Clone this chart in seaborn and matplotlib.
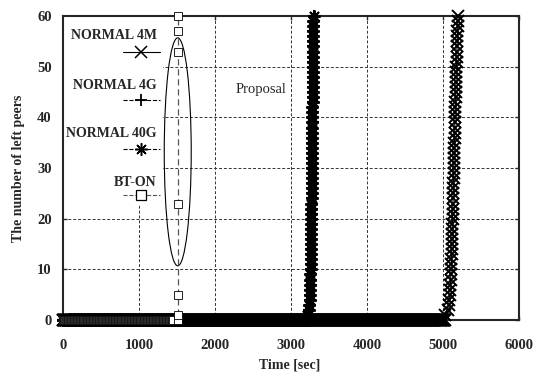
import matplotlib as mpl

mpl.use("Agg")
import matplotlib.pyplot as plt
from matplotlib.patches import Ellipse, Rectangle
import seaborn as sns
import numpy as np
import pandas as pd

sns.set_style("ticks")
plt.rcParams["font.family"] = ["Liberation Serif", "DejaVu Serif"]
plt.rcParams["font.weight"] = "bold"

# departure time [sec] of the 1st, 2nd, ... 60th peer
normal_4m = [5028, 5060, 5075, 5084, 5090, 5094, 5098, 5101, 5104, 5107,
             5110, 5112, 5114, 5116, 5118, 5119, 5121, 5122, 5124, 5126,
             5128, 5130, 5131, 5133, 5135, 5136, 5138, 5140, 5141, 5143,
             5144, 5146, 5147, 5149, 5150, 5152, 5154, 5155, 5157, 5159,
             5161, 5162, 5164, 5166, 5168, 5170, 5171, 5173, 5175, 5177,
             5179, 5181, 5183, 5185, 5187, 5189, 5191, 5193, 5196, 5200]
normal_4g = [3225, 3240, 3248, 3252, 3255, 3257, 3259, 3261, 3262, 3263,
             3264, 3265, 3266, 3267, 3268, 3268, 3269, 3270, 3271, 3271,
             3272, 3273, 3273, 3274, 3275, 3275, 3276, 3277, 3277, 3278,
             3279, 3279, 3280, 3281, 3281, 3282, 3283, 3283, 3284, 3285,
             3285, 3286, 3287, 3287, 3288, 3289, 3289, 3290, 3291, 3291,
             3292, 3293, 3293, 3294, 3295, 3295, 3296, 3297, 3298, 3300]
normal_40g = [3215, 3232, 3241, 3246, 3249, 3252, 3254, 3256, 3257, 3259,
              3260, 3261, 3262, 3263, 3264, 3265, 3266, 3266, 3267, 3268,
              3269, 3269, 3270, 3271, 3272, 3272, 3273, 3274, 3274, 3275,
              3276, 3277, 3277, 3278, 3279, 3279, 3280, 3281, 3281, 3282,
              3283, 3283, 3284, 3285, 3286, 3286, 3287, 3288, 3288, 3289,
              3290, 3290, 3291, 3292, 3293, 3293, 3294, 3295, 3296, 3297]
# BT-ON: counter samples around the moment all peers leave
bt_on_t = [1510, 1510, 1510, 1510, 1510, 1510, 1510]
bt_on_n = [0, 1, 5, 23, 53, 57, 60]
bt_on_idle_end = 1460

# counter logging interval [sec] while nobody has left yet
log_interval_normal = 5
log_interval_bt = 10


def series(deps):
    deps = np.asarray(deps, dtype=float)
    idle = np.arange(0, deps[0], log_interval_normal)
    t = np.concatenate([idle, deps])
    n = np.concatenate([np.zeros(len(idle)), np.arange(1, len(deps) + 1)])
    return pd.DataFrame({"t": t, "n": n})


df_4m = series(normal_4m)
df_4g = series(normal_4g)
df_40g = series(normal_40g)
idle = np.arange(0, bt_on_idle_end, log_interval_bt)
df_bt = pd.DataFrame({"t": np.concatenate([idle, bt_on_t]),
                      "n": np.concatenate([np.zeros(len(idle)), bt_on_n])})

f = plt.figure(figsize=(5.36, 3.73), dpi=100)
ax = f.add_axes([0.1175, 0.142, 0.8507, 0.815])

common = dict(estimator=None, sort=False, ax=ax, clip_on=False, legend=False)
sns.lineplot(x="t", y="n", data=df_4m, color="k", lw=0.8, marker="x",
             markersize=8, markeredgewidth=1.4, markeredgecolor="k",
             zorder=3, **common)
sns.lineplot(x="t", y="n", data=df_4g, color="k", lw=0.8, linestyle="--",
             marker="+", markersize=9, markeredgewidth=1.5, markeredgecolor="k",
             zorder=3, **common)
sns.lineplot(x="t", y="n", data=df_40g, color="k", lw=0.8, linestyle="--",
             marker=(8, 2, 0), markersize=9, markeredgewidth=1.4,
             markeredgecolor="k", zorder=3, **common)
sns.lineplot(x="t", y="n", data=df_bt, color="#555555", lw=0.9, linestyle=(0, (5, 3)),
             marker="s", markersize=5.5, markerfacecolor="white",
             markeredgecolor="k", markeredgewidth=0.6, zorder=4, **common)

ax.set(xlim=(0, 6000), ylim=(0, 60))
ax.set_xticks(range(0, 6001, 1000))
ax.set_yticks(range(0, 61, 10))
ax.grid(True, color="#333333", linestyle=(0, (3, 2)), lw=0.7)
ax.set_axisbelow(True)
ax.tick_params(direction="in", length=3, width=1, top=True, right=True,
               labelsize=10.5, pad=8)
ax.tick_params(axis="x", pad=14)
for s in ax.spines.values():
    s.set_linewidth(1.5)
ax.set_xlabel("Time [sec]", fontsize=10, fontweight="bold")
ax.set_ylabel("The number of left peers", fontsize=10, fontweight="bold")
ax.xaxis.set_label_coords(0.498, -0.125)
ax.yaxis.set_label_coords(-0.083, 0.5)

# key box
ax.add_patch(Rectangle((0, 0.38), 0.22, 0.62, transform=ax.transAxes,
                       facecolor="white", edgecolor="none", zorder=1))
keys = [("NORMAL 4M", "x", "-", 0.9375, 0.883, dict(markersize=8)),
        ("NORMAL 4G", "+", "--", 0.773, 0.724, dict(markersize=9, markeredgewidth=1.3)),
        ("NORMAL 40G", (8, 2, 0), "--", 0.615, 0.5625, dict(markersize=9)),
        ("BT-ON", "s", "--", 0.454, 0.411,
         dict(markerfacecolor="white", markeredgecolor="k", color="#555555",
              markeredgewidth=0.9))]
for label, mk, ls, ty, my, kw in keys:
    ax.text(0.206, ty, label, transform=ax.transAxes, ha="right", va="center",
            fontsize=10, fontweight="bold")
    opts = dict(color="k", lw=0.8, linestyle=ls, markevery=[1], markersize=7,
                markeredgewidth=1.1)
    opts.update(kw)
    ax.plot([0.132, 0.171, 0.213], [my, my, my], marker=mk,
            transform=ax.transAxes, zorder=5, **opts)

ax.add_patch(Ellipse((1510, 33.2), 355, 45, fill=False, lw=0.8, ec="k", zorder=3))
ax.annotate("Proposal", xy=(1690, 43), xytext=(2270, 45.5), fontsize=10.5,
            fontweight="normal", va="center",
            arrowprops=dict(arrowstyle="-", lw=0.8, shrinkA=0, shrinkB=0))

plt.savefig("out.png", dpi=100)
